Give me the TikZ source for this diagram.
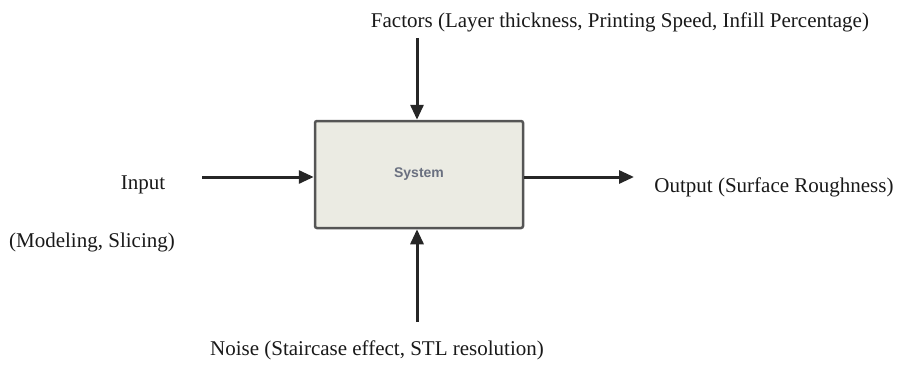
\documentclass[tikz,border=0pt]{standalone}
\usepackage{fontspec}
\setmainfont{Liberation Serif}
\setsansfont{Liberation Sans}
\usetikzlibrary{arrows.meta}
\definecolor{boxfill}{HTML}{EBEBE3}
\definecolor{boxdraw}{HTML}{555555}
\definecolor{systxt}{HTML}{6A7080}
\tikzset{
  lbl/.style={font=\fontsize{21}{24}\selectfont, inner sep=0pt, text=black!90},
  conn/.style={line width=3pt, draw=black!85, -{Triangle[length=15pt,width=13pt]}},
  sysbox/.style={draw=boxdraw, fill=boxfill, line width=2.5pt, rounded corners=2pt, minimum width=208pt, minimum height=107pt, font=\sffamily\bfseries\fontsize{14}{16}\selectfont, text=systxt}
}
\begin{document}
\begin{tikzpicture}[x=1pt,y=-1pt]
\useasboundingbox (0,0) rectangle (898,367);
\node[sysbox] (sys) at (419,174.5) {System};
\node[lbl] (factors) at (620,22) {Factors (Layer thickness, Printing Speed, Infill Percentage)};
\coordinate (ftop) at (417,38);
\draw[conn] (ftop) -- (sys.north -| ftop);
\node[lbl] (noise) at (377,350) {Noise (Staircase effect, STL resolution)};
\coordinate (nbot) at (417,322);
\draw[conn] (nbot) -- (sys.south -| nbot);
\node[lbl] (input) at (143,185) {Input};
\node[lbl] (model) at (92,242) {(Modeling, Slicing)};
\coordinate (inl) at (202,177);
\draw[conn] (inl) -- (sys.west |- inl);
\node[lbl] (output) at (774,187) {Output (Surface Roughness)};
\coordinate (outr) at (634,177);
\draw[conn] (sys.east |- outr) -- (outr);
\end{tikzpicture}
\end{document}
